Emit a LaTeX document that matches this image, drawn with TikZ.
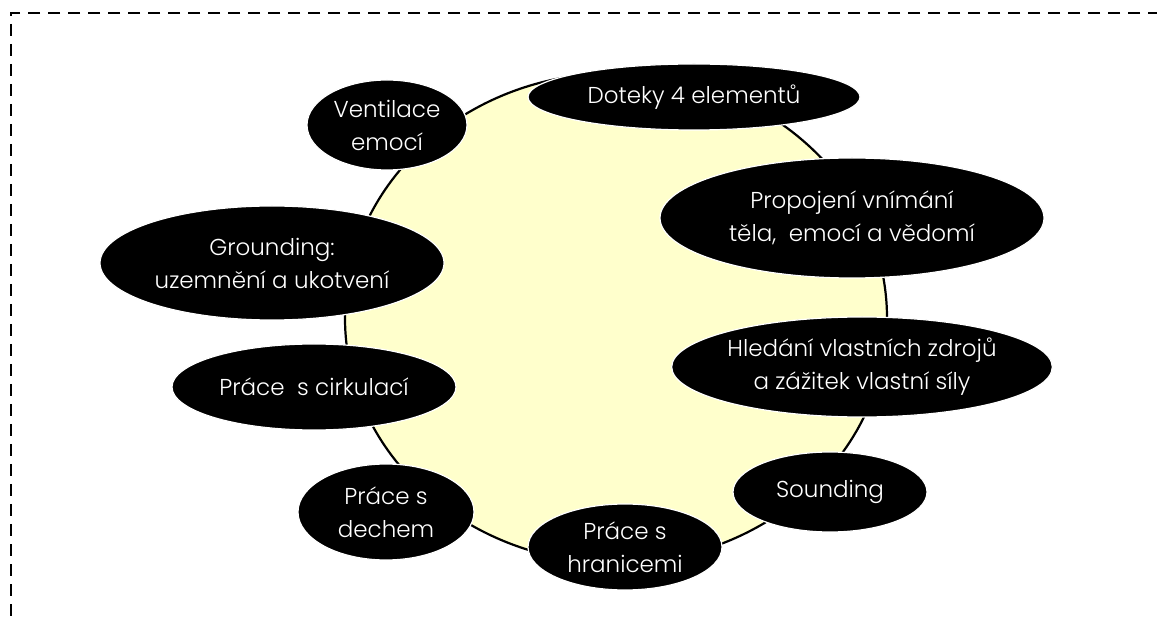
\documentclass[tikz,border=0pt]{standalone}
\usepackage{fontspec}
\setmainfont{Poppins Light}
\usetikzlibrary{shapes.geometric}
\definecolor{paleyellow}{HTML}{FFFFCC}
\tikzset{
  topic/.style={ellipse, fill=black, draw=white, line width=1.2pt, inner sep=0pt,
    text=white, align=center, font=\fontsize{23}{33}\selectfont},
  hub/.style={ellipse, fill=paleyellow, draw=black, line width=2.2pt, inner sep=0pt},
  frame/.style={line width=2.6pt, dash pattern=on 12pt off 8pt}
}
\begin{document}
\begin{tikzpicture}[x=1pt,y=-1pt]
  \useasboundingbox (0,0) rectangle (1157,617);
  % dashed frame (top and left edges)
  \coordinate (ftl) at (11,13);
  \coordinate (ftr) at (1160,13);
  \coordinate (fbl) at (11,620);
  \draw[frame] (ftr) -- (ftl) -- (fbl);
  % central area
  \node[hub, minimum width=542pt, minimum height=490pt] (hub) at (616,318) {};
  % surrounding topics
  \node[topic, minimum width=160pt, minimum height=90pt] (vent) at (387,125) {Ventilace\\emocí};
  \node[topic, minimum width=332pt, minimum height=66pt] (dot) at (694,97) {Doteky 4 elementů};
  \node[topic, minimum width=384pt, minimum height=120pt] (prop) at (852,218) {Propojení vnímání\\těla,\ \ emocí a vědomí};
  \node[topic, minimum width=344pt, minimum height=114pt] (grd) at (272,263) {Grounding:\\uzemnění a ukotvení};
  \node[topic, minimum width=376pt, minimum height=100pt] (hled) at (862,367) {Hledání vlastních zdrojů\\a zážitek vlastní síly};
  \node[topic, minimum width=284pt, minimum height=86pt] (cirk) at (314,387) {Práce\ \ s cirkulací};
  \node[topic, minimum width=194pt, minimum height=80pt] (sound) at (830,492) {Sounding};
  \node[topic, minimum width=176pt, minimum height=96pt] (dech) at (386,512) {Práce s\\dechem};
  \node[topic, minimum width=194pt, minimum height=86pt] (hran) at (625,547) {Práce s\\hranicemi};
\end{tikzpicture}
\end{document}
